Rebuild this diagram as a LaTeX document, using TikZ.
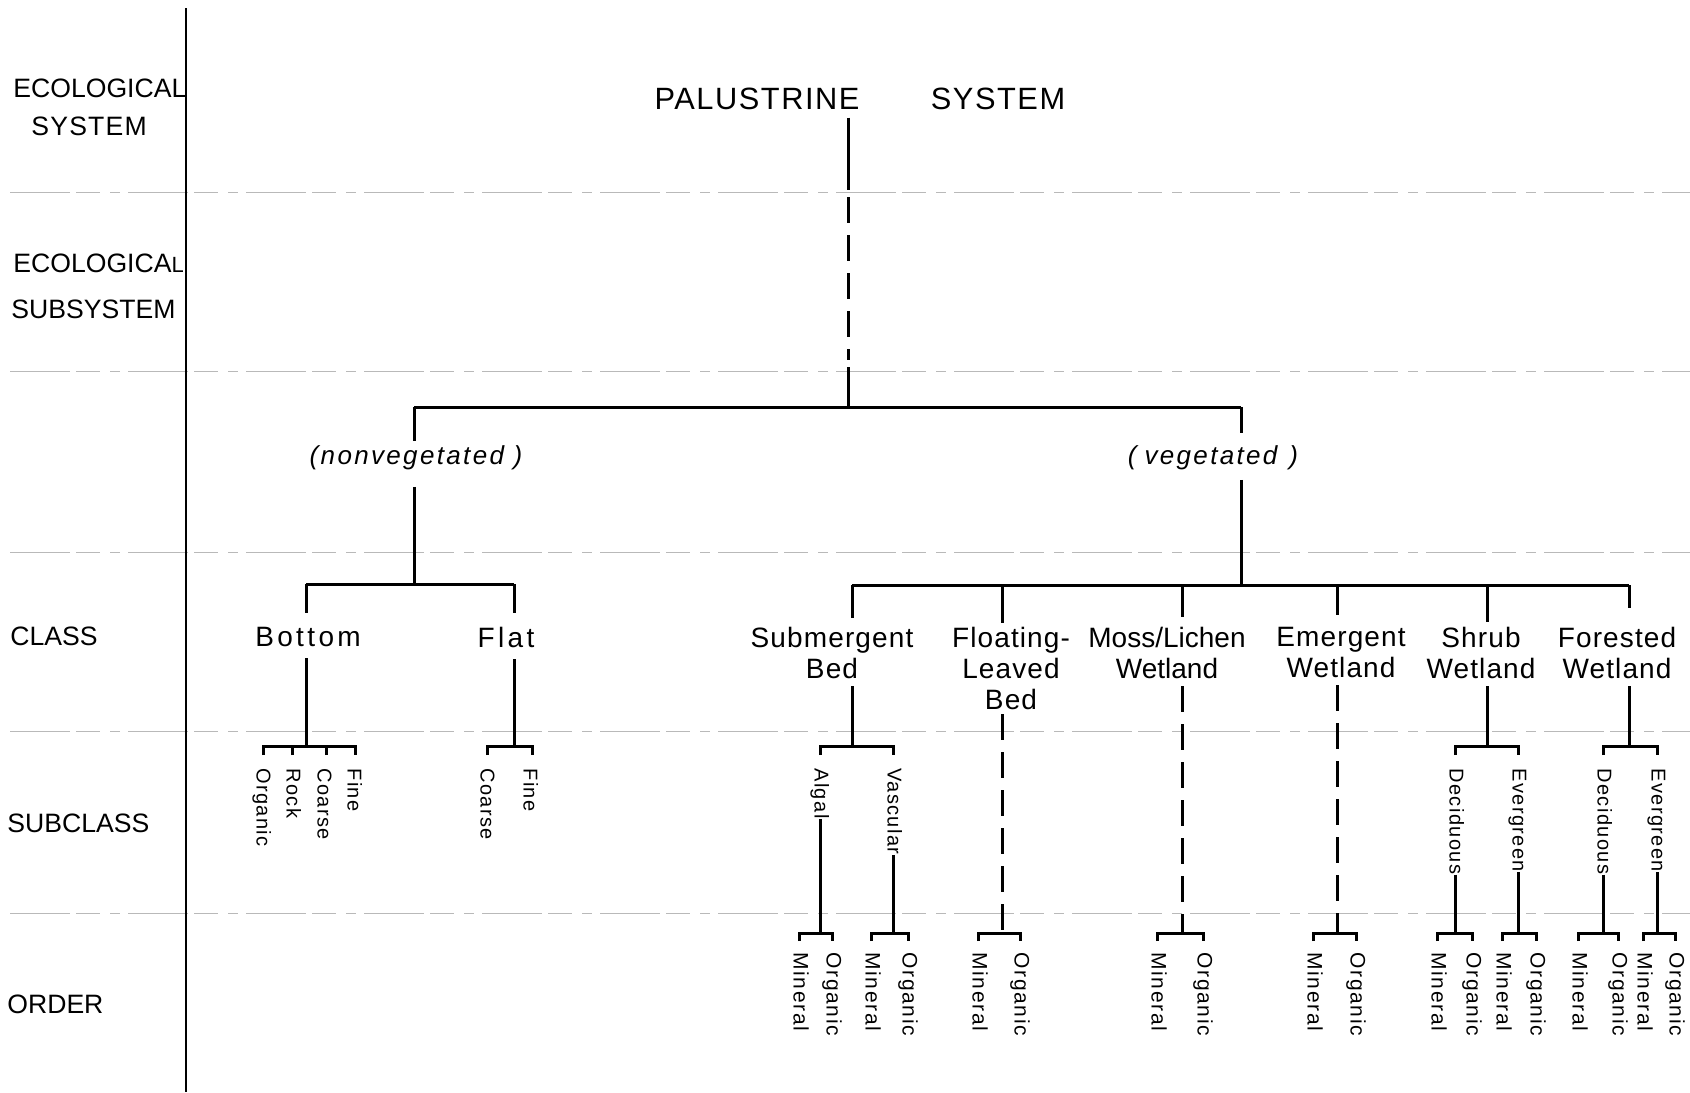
\documentclass[tikz,border=0pt]{standalone}
\usepackage{fontspec}
\setmainfont{Liberation Sans}
\newfontfamily\fTitle[LetterSpace=5]{Liberation Sans}
\newfontfamily\fCls[LetterSpace=4]{Liberation Sans}
\newfontfamily\fClsW[LetterSpace=12]{Liberation Sans}
\newfontfamily\fIt[LetterSpace=9]{Liberation Sans}
\newfontfamily\fRot[LetterSpace=7]{Liberation Sans}
\newfontfamily\fOrd[LetterSpace=8]{Liberation Sans}
\newcommand{\ordpair}[4]{%
  \coordinate (#1o) at (#2,933);
  \coordinate (#1m) at (#3,941);
  \coordinate (#1g) at (#4,941);
  \draw[tree] (#1m) |- (#1o) -| (#1g);
  \node[ordl] (#1mt) at (#3,952) {Mineral};
  \node[ordl] (#1gt) at (#4,952) {Organic};
}
\begin{document}
\begin{tikzpicture}[x=0.5pt,y=-0.5pt,
  tree/.style={line width=1.5pt},
  dsh/.style={line width=1.5pt, dash pattern=on 13pt off 6pt},
  gridln/.style={gray!55, line width=0.5pt, dash pattern=on 30pt off 3pt on 12pt off 5pt on 5pt off 4pt},
  axisln/.style={line width=0.8pt},
  side/.style={inner sep=0pt, anchor=base west, font=\fontsize{13.3}{16}\selectfont},
  ttl/.style={inner sep=0pt, anchor=base, font=\fTitle\fontsize{15.4}{18}\selectfont},
  cls/.style={inner sep=0pt, anchor=north, align=center, font=\fCls\fontsize{14}{15.5}\selectfont},
  grp/.style={inner sep=0pt, anchor=base, font=\fIt\itshape\fontsize{13}{15}\selectfont},
  subl/.style={inner sep=0pt, anchor=mid west, rotate=-90, font=\fRot\fontsize{10}{12}\selectfont},
  ordl/.style={inner sep=0pt, anchor=mid west, rotate=-90, font=\fOrd\fontsize{10.5}{12}\selectfont},
]
\useasboundingbox (0,0) rectangle (1690,1092);
\fill[white] (0,0) rectangle (1690,1092);

% level grid
\foreach \yy in {192,371,552,731,913} \draw[gridln] (10,\yy) -- (1690,\yy);
\draw[axisln] (186,8) -- (186,1092);

% level labels
\node[side] (l1) at (13,97) {ECOLOGICAL};
\node[side] (l2) at (31,135) {S\hspace{0.6pt}Y\hspace{0.6pt}S\hspace{0.6pt}T\hspace{0.6pt}E\hspace{0.6pt}M};
\node[side] (l3) at (13,272) {ECOLOGICA{\fontsize{11}{12}\selectfont L}};
\node[side] (l4) at (11,318) {SUBSYSTEM};
\node[side] (l5) at (10,645) {CLASS};
\node[side] (l6) at (7,832) {SUBCLASS};
\node[side] (l7) at (7,1013) {ORDER};

% title
\node[ttl] (pal) at (757,109) {PALUSTRINE};
\node[ttl] (sys) at (998,109) {SYSTEM};

\coordinate (top) at (848,407);
\coordinate (m1) at (848,190);
\coordinate (m2) at (848,367);
\draw[tree] ([yshift=-4pt]pal.south -| top) -- (m1);
\draw[dsh] ([yshift=-3.5pt]m1) -- ([yshift=3.5pt]m2);
\draw[tree] (m2) -- (top);

\coordinate (jL) at (414,407);
\coordinate (jR) at (1241,407);
\draw[tree] (jL) -- (jR);

\node[grp] (nonveg) at (416,464) {(nonvegetated )};
\node[grp] (veg) at (1213,464) {(\hspace{4pt}vegetated\hspace{6pt})};
\draw[tree, shorten >=2pt] (jL) -- (jL |- nonveg.north);
\draw[tree, shorten >=6pt] (jR) -- (jR |- veg.north);

% nonvegetated classes
\coordinate (jL2) at (414,584);
\coordinate (jBot) at (306,584);
\coordinate (jFlat) at (514,584);
\draw[tree, shorten <=8.5pt] (jL2 |- nonveg.south) -- (jL2);
\draw[tree] (jBot) -- (jFlat);
\node[cls, font=\fClsW\fontsize{14}{15.5}\selectfont] (bottom) at (308,627) {Bottom};
\node[cls, font=\fClsW\fontsize{14}{15.5}\selectfont] (flat) at (506,627) {Flat};
\draw[tree, shorten >=7pt] (jBot) -- (jBot |- bottom.north);
\draw[tree, shorten >=7pt] (jFlat) -- (jFlat |- flat.north);

\coordinate (bBot) at (306,746);
\coordinate (tOrg) at (263,755);
\coordinate (tRock) at (292,755);
\coordinate (tCoa) at (326,755);
\coordinate (tFine) at (355,755);
\draw[tree, shorten <=5.5pt] (bBot |- bottom.south) -- (bBot);
\draw[tree] (tOrg) |- (bBot) -| (tFine);
\draw[tree] (tRock) -- (tRock |- bBot);
\draw[tree] (tCoa) -- (tCoa |- bBot);
\node[subl] (sOrg) at (262,768) {Organic};
\node[subl] (sRock) at (292,768) {Rock};
\node[subl] (sCoa) at (323,768) {Coarse};
\node[subl] (sFine) at (353,768) {Fine};

\coordinate (bFlat) at (514,746);
\coordinate (tFC) at (487,755);
\coordinate (tFF) at (532,755);
\draw[tree, shorten <=5.5pt] (bFlat |- flat.south) -- (bFlat);
\draw[tree] (tFC) |- (bFlat) -| (tFF);
\node[subl] (fCoa) at (486,768) {Coarse};
\node[subl] (fFine) at (529,768) {Fine};

% vegetated classes
\coordinate (jR2) at (1241,585);
\coordinate (jSub) at (852,585);
\coordinate (jFlo) at (1002,585);
\coordinate (jMoss) at (1182,585);
\coordinate (jEm) at (1337,585);
\coordinate (jShr) at (1487,585);
\coordinate (jFor) at (1629,585);
\draw[tree, shorten <=5pt] (jR2 |- veg.south) -- (jR2);
\draw[tree] (jSub) -- (jFor);

\node[cls] (subm) at (832,627) {Submergent\\Bed};
\node[cls] (flo) at (1011,627) {Floating-\\Leaved\\Bed};
\node[cls, font=\fontsize{14}{15.5}\selectfont] (moss) at (1167,627) {Moss/Lichen\\Wetland};
\node[cls] (emer) at (1341,627) {Emergent\\Wetland};
\node[cls] (shrub) at (1481,627) {Shrub\\Wetland};
\node[cls] (fore) at (1617,627) {Forested\\Wetland};

\draw[tree, shorten >=4.5pt] (jSub) -- (jSub |- subm.north);
\draw[tree, shorten >=2pt] (jFlo) -- (jFlo |- flo.north);
\draw[tree, shorten >=5pt] (jMoss) -- (jMoss |- moss.north);
\draw[tree, shorten >=6pt] (jEm) -- (jEm |- emer.north);
\draw[tree, shorten >=2.5pt] (jShr) -- (jShr |- shrub.north);
\draw[tree, shorten >=9.5pt] (jFor) -- (jFor |- fore.north);

% Submergent bed
\coordinate (bSub) at (852,746);
\coordinate (tAlg) at (820,755);
\coordinate (tVas) at (893,755);
\draw[tree, shorten <=3.5pt] (bSub |- subm.south) -- (bSub);
\draw[tree] (tAlg) |- (bSub) -| (tVas);
\node[subl] (alg) at (820,768) {Algal};
\node[subl] (vas) at (893,768) {Vascular};
\ordpair{alg}{820}{799}{832}
\ordpair{vas}{893}{871}{908}
\draw[tree] (alg.mid east) -- (algo);
\draw[tree] (vas.mid east) -- (vaso);

% Floating-leaved, moss/lichen, emergent
\ordpair{flo}{1002}{978}{1020}
\ordpair{mos}{1182}{1157}{1203}
\ordpair{emr}{1337}{1313}{1356}
\draw[dsh, shorten <=2pt] (floo |- flo.south) -- (floo);
\draw[dsh, shorten <=3.5pt] (moso |- moss.south) -- (moso);
\draw[dsh, shorten <=3.5pt] (emro |- emer.south) -- (emro);

% Shrub wetland
\coordinate (bShr) at (1487,746);
\coordinate (tSD) at (1455,755);
\coordinate (tSE) at (1518,755);
\draw[tree, shorten <=3.5pt] (bShr |- shrub.south) -- (bShr);
\draw[tree] (tSD) |- (bShr) -| (tSE);
\node[subl] (sdec) at (1455,768) {Deciduous};
\node[subl] (sevg) at (1518,768) {Evergreen};
\ordpair{sd}{1455}{1437}{1472}
\ordpair{se}{1518}{1502}{1536}
\draw[tree] (sdec.mid east) -- (sdo);
\draw[tree] (sevg.mid east) -- (seo);

% Forested wetland
\coordinate (bFor) at (1629,746);
\coordinate (tFD) at (1603,755);
\coordinate (tFE) at (1657,755);
\draw[tree, shorten <=3.5pt] (bFor |- fore.south) -- (bFor);
\draw[tree] (tFD) |- (bFor) -| (tFE);
\node[subl] (fdec) at (1603,768) {Deciduous};
\node[subl] (fevg) at (1657,768) {Evergreen};
\ordpair{fd}{1603}{1578}{1618}
\ordpair{fe}{1657}{1643}{1675}
\draw[tree] (fdec.mid east) -- (fdo);
\draw[tree] (fevg.mid east) -- (feo);
\end{tikzpicture}
\end{document}
